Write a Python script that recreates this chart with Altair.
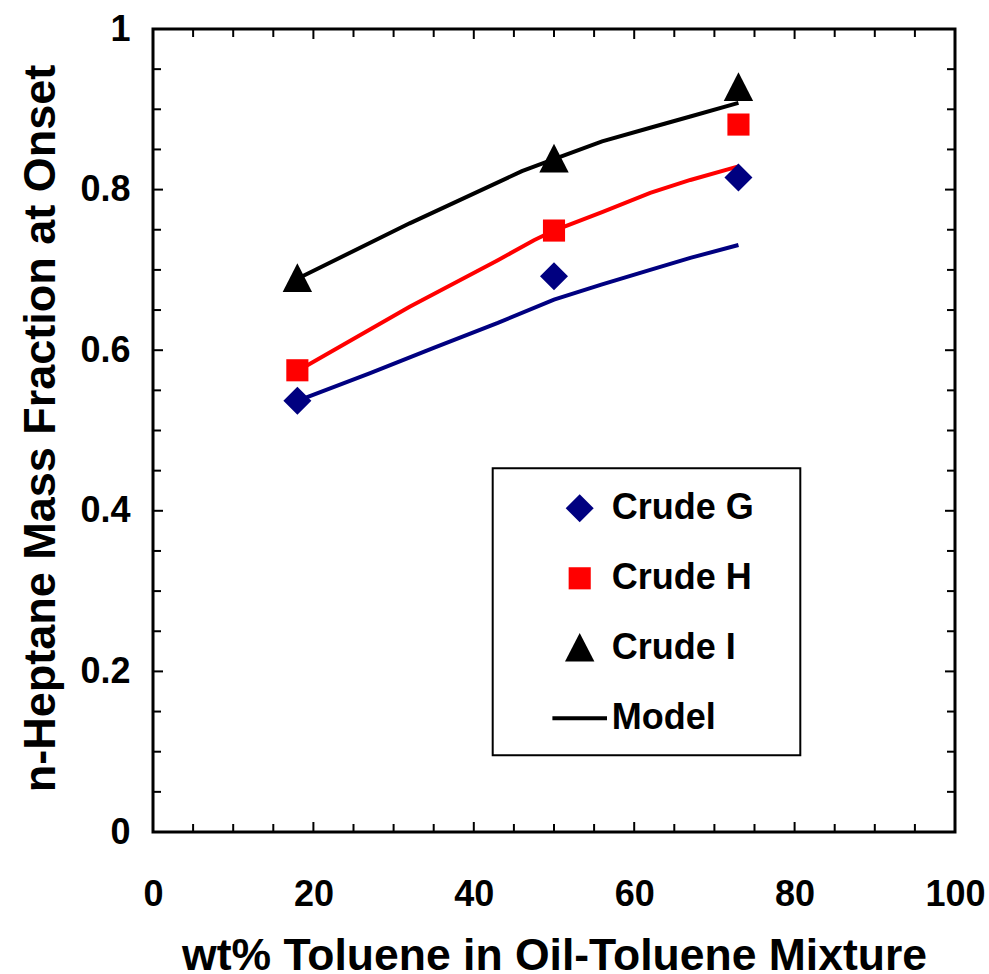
import altair as alt
import pandas as pd

# ---------------- data ----------------
series = ["Crude G", "Crude H", "Crude I"]
legend_domain = ["Crude G", "Crude H", "Crude I", "Model"]
colors = ["#000080", "#FF0000", "#000000", "#000000"]

exp_x = [18, 50, 73]
exp_g = [0.537, 0.692, 0.815]
exp_h = [0.575, 0.749, 0.881]
exp_i = [0.689, 0.838, 0.927]

model_g_x = [18, 27, 35, 43, 50, 56, 62, 67, 73]
model_g_y = [0.537, 0.571, 0.603, 0.634, 0.663, 0.682, 0.700, 0.715, 0.731]
model_h_x = [18, 32, 43, 47.5, 50, 56, 62, 67, 73]
model_h_y = [0.574, 0.654, 0.712, 0.737, 0.749, 0.772, 0.796, 0.812, 0.829]
model_i_x = [18, 32, 46, 50, 56, 62, 67, 73]
model_i_y = [0.689, 0.758, 0.823, 0.838, 0.860, 0.877, 0.891, 0.908]

x_labels = [0, 20, 40, 60, 80, 100]
y_labels = [0, 0.2, 0.4, 0.6, 0.8, 1]
x_major = [20, 40, 60, 80]
x_minor = [5, 10, 15, 25, 30, 35, 45, 50, 55, 65, 70, 75, 85, 90, 95]
y_major = [0.2, 0.4, 0.6, 0.8]
y_minor = [0.05, 0.1, 0.15, 0.25, 0.3, 0.35, 0.45, 0.5, 0.55,
           0.65, 0.7, 0.75, 0.85, 0.9, 0.95]

# ---------------- tables ----------------
exp_df = pd.DataFrame({
    "x": exp_x * 3,
    "y": exp_g + exp_h + exp_i,
    "series": [s for s in series for _ in exp_x],
})
model_df = pd.concat([
    pd.DataFrame({"x": model_g_x, "y": model_g_y, "series": "Crude G"}),
    pd.DataFrame({"x": model_h_x, "y": model_h_y, "series": "Crude H"}),
    pd.DataFrame({"x": model_i_x, "y": model_i_y, "series": "Crude I"}),
], ignore_index=True)

FONT = "Liberation Sans"
W, H = 802, 803

shapes = [
    "diamond",
    "M-0.79,-0.79H0.79V0.79H-0.79Z",
    "M0,-1.1L1.05,0.95H-1.05Z",
    "M-1.95,-0.14H1.95V0.14H-1.95Z",
]

x_scale = alt.Scale(domain=[0, 100], nice=False, zero=False)
y_scale = alt.Scale(domain=[0, 1], nice=False, zero=False)

x_axis = alt.Axis(values=x_labels, format="d", title="wt% Toluene in Oil-Toluene Mixture",
                  grid=False, ticks=False, domain=False, labelPadding=45,
                  labelFontSize=36, labelFont=FONT, labelFontWeight="bold", labelColor="black",
                  labelFlush=False, labelOverlap=False,
                  titleFontSize=44.5, titleFont=FONT, titleFontWeight="bold", titleColor="black",
                  titleX=401, titleY=137, titleBaseline="alphabetic", titleAlign="center")
y_axis = alt.Axis(values=y_labels, format="~g", title="n-Heptane Mass Fraction at Onset",
                  grid=False, ticks=False, domain=False, labelPadding=23,
                  labelFontSize=36, labelFont=FONT, labelFontWeight="bold", labelColor="black",
                  labelFlush=False, labelOverlap=False,
                  titleFontSize=45, titleFont=FONT, titleFontWeight="bold", titleColor="black",
                  titleX=-99, titleY=399, titleAngle=270, titleBaseline="alphabetic",
                  titleAlign="center")

X = alt.X("x:Q", scale=x_scale, axis=x_axis)
Y = alt.Y("y:Q", scale=y_scale, axis=y_axis)

leg = alt.Legend(title=None, orient="none", legendX=339.7, legendY=439.3,
                 symbolSize=784, symbolStrokeWidth=0, symbolOffset=47,
                 labelOffset=14, rowPadding=34, labelFontSize=36, labelFont=FONT,
                 labelFontWeight="bold", labelColor="black", labelBaseline="middle")

color_enc = alt.Color("series:N", scale=alt.Scale(domain=legend_domain, range=colors), legend=leg)
shape_enc = alt.Shape("series:N", scale=alt.Scale(domain=legend_domain, range=shapes), legend=leg)

lines = alt.Chart(model_df).mark_line(strokeWidth=4).encode(
    x=X, y=Y,
    stroke=alt.Stroke("series:N", scale=alt.Scale(domain=legend_domain, range=colors), legend=None),
    detail="series:N",
    order="x:Q",
)

points = alt.Chart(exp_df).mark_point(filled=True, size=784, opacity=1, strokeWidth=0).encode(
    x=X, y=Y, color=color_enc, shape=shape_enc,
)

# frame around the legend entries
legend_frame = alt.Chart(pd.DataFrame({"k": [0]})).mark_rect(
    fill="white", stroke="black", strokeWidth=2
).encode(
    x=alt.value(339.7), x2=alt.value(647.3), y=alt.value(439.3), y2=alt.value(726.3)
)

def xticks(vals, length):
    d = pd.DataFrame({"x": vals})
    bottom = alt.Chart(d).mark_rule(color="black", strokeWidth=2).encode(
        x=X, y=alt.value(H), y2=alt.value(H - length))
    top = alt.Chart(d).mark_rule(color="black", strokeWidth=2).encode(
        x=X, y=alt.value(0), y2=alt.value(length))
    return [bottom, top]

def yticks(vals, length):
    d = pd.DataFrame({"y": vals})
    left = alt.Chart(d).mark_rule(color="black", strokeWidth=2).encode(
        y=Y, x=alt.value(0), x2=alt.value(length))
    right = alt.Chart(d).mark_rule(color="black", strokeWidth=2).encode(
        y=Y, x=alt.value(W), x2=alt.value(W - length))
    return [left, right]

tick_layers = xticks(x_major, 10) + xticks(x_minor, 8) + yticks(y_major, 10) + yticks(y_minor, 8)

chart = alt.layer(*tick_layers, legend_frame, lines, points).properties(
    width=W, height=H,
    autosize=alt.AutoSizeParams(type="none"),
    padding={"left": 153, "top": 29, "right": 34, "bottom": 142},
    background="white",
).resolve_legend(
    stroke="independent"
).configure_view(
    stroke="black", strokeWidth=3
).configure_legend(
    padding=22
)

chart.save("out.html", embed_options={"renderer": "svg", "actions": False})
